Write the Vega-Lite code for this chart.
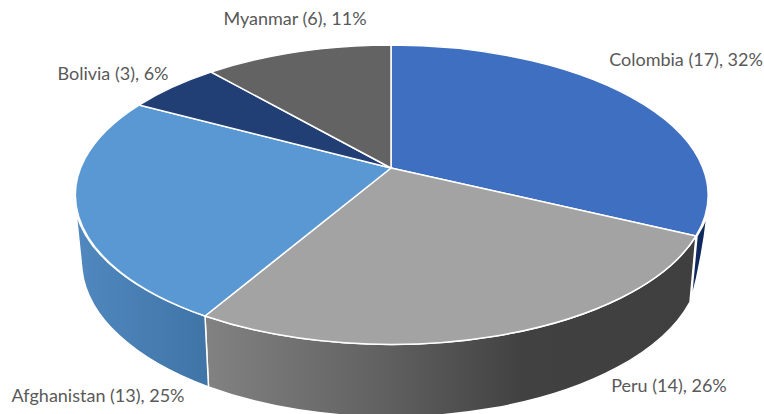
{
  "$schema": "https://vega.github.io/schema/vega-lite/v6.json",
  "width": 764,
  "height": 414,
  "autosize": {"type": "none"},
  "padding": 0,
  "background": "white",
  "config": {"view": {"stroke": null}},
  "data": {"values": [
    {"country": "Colombia", "cases": 17, "share": 32, "label": "Colombia (17), 32%"},
    {"country": "Peru", "cases": 14, "share": 26, "label": "Peru (14), 26%"},
    {"country": "Afghanistan", "cases": 13, "share": 25, "label": "Afghanistan (13), 25%"},
    {"country": "Bolivia", "cases": 3, "share": 6, "label": "Bolivia (3), 6%"},
    {"country": "Myanmar", "cases": 6, "share": 11, "label": "Myanmar (6), 11%"}
  ]},
  "layer": [
    {
      "transform": [{"filter": "datum.country === 'Colombia'"}],
      "mark": {"type": "point", "filled": true, "opacity": 1, "size": 4, "stroke": "white", "strokeWidth": 1.5, "fill": "#10295c"},
      "encoding": {"shape": {"value": "M315,29 L309,94 Q320,53 325,9 A317.5,150 0 0 1 315,29 Z"}}
    },
    {
      "transform": [{"filter": "datum.country === 'Peru'"}],
      "mark": {"type": "point", "filled": true, "opacity": 1, "size": 4, "stroke": "white", "strokeWidth": 1.5,
        "fill": {"gradient": "linear", "x1": 0, "y1": 0, "x2": 1, "y2": 0, "stops": [{"offset": 0, "color": "#828282"}, {"offset": 0.35, "color": "#626262"}, {"offset": 0.65, "color": "#414141"}, {"offset": 1, "color": "#3f3f3f"}]}},
      "encoding": {"shape": {"value": "M-177,109 L-173.5,180 A310,156 0 0 0 308,95 L314,29 A317.5,150 0 0 1 -177,109 Z"}}
    },
    {
      "transform": [{"filter": "datum.country === 'Afghanistan'"}],
      "mark": {"type": "point", "filled": true, "opacity": 1, "size": 4, "stroke": "white", "strokeWidth": 1.5,
        "fill": {"gradient": "linear", "x1": 0, "y1": 0, "x2": 1, "y2": 0, "stops": [{"offset": 0, "color": "#5088bf"}, {"offset": 1, "color": "#3f74a6"}]}},
      "encoding": {"shape": {"value": "M-306,5 L-300,63 A310,156 0 0 0 -173.5,180 L-177,109 A317.5,150 0 0 1 -306,5 Z"}}
    },
    {
      "mark": {"type": "point", "filled": true, "opacity": 1, "size": 4, "stroke": "white", "strokeWidth": 1.5},
      "encoding": {
        "shape": {"field": "country", "type": "nominal", "legend": null, "scale": {
          "domain": ["Colombia", "Peru", "Afghanistan", "Bolivia", "Myanmar"],
          "range": [
            "M9,-39 L9,-162 A317.5,150 0 0 1 314,29 Z",
            "M9,-39 L314,29 A317.5,150 0 0 1 -177,109 Z",
            "M9,-39 L-177,109 A317.5,150 0 0 1 -243,-102 Z",
            "M9,-39 L-243,-102 A317.5,150 0 0 1 -171,-135 Z",
            "M9,-39 L-171,-135 A317.5,150 0 0 1 9,-162 Z"
          ]
        }},
        "fill": {"field": "country", "type": "nominal", "legend": null, "scale": {
          "domain": ["Colombia", "Peru", "Afghanistan", "Bolivia", "Myanmar"],
          "range": ["#3f6fc1", "#a3a3a3", "#5a98d4", "#213f75", "#636363"]
        }}
      }
    },
    {
      "mark": {"type": "text", "font": "Lato", "fontSize": 18, "color": "#595959", "align": "center", "baseline": "middle"},
      "encoding": {
        "text": {"field": "label", "type": "nominal"},
        "x": {"field": "cases", "type": "quantitative", "axis": null, "scale": {"domain": [3, 6, 13, 14, 17], "range": [113, 295, 98, 669, 686]}},
        "y": {"field": "cases", "type": "quantitative", "axis": null, "scale": {"domain": [3, 6, 13, 14, 17], "range": [75, 20, 397, 387, 61]}}
      }
    }
  ]
}
